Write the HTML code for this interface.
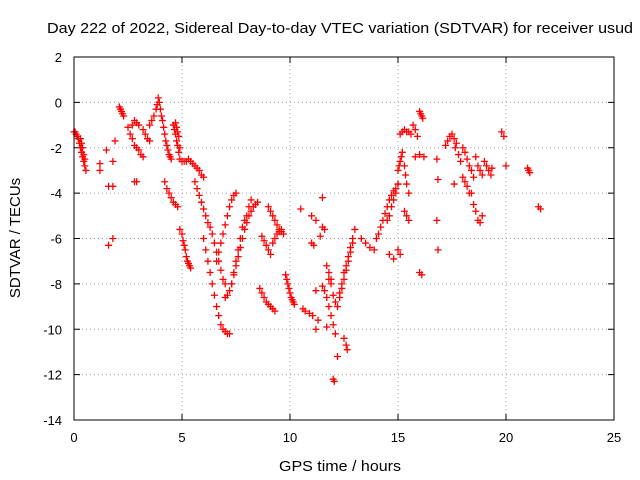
<!DOCTYPE html>
<html><head><meta charset="utf-8"><style>
body{margin:0;background:#fff}
svg{display:block;font-family:"Liberation Sans",sans-serif}
</style></head><body>
<svg id="chart" width="640" height="480" viewBox="0 0 640 480" xmlns="http://www.w3.org/2000/svg">
<rect width="640" height="480" fill="#fff"/>
<text x="47" y="33" font-size="15" textLength="586" lengthAdjust="spacingAndGlyphs">Day 222 of 2022, Sidereal Day-to-day VTEC variation (SDTVAR) for receiver usud</text>
<g id="grid"></g><g id="ticks"></g><g id="pts"></g>
<rect x="74" y="57" width="540" height="363" fill="none" stroke="#000" stroke-width="1"/>
<text x="279" y="471" font-size="15" textLength="122" lengthAdjust="spacingAndGlyphs">GPS time / hours</text>
<text x="20" y="238" font-size="15" text-anchor="middle" transform="rotate(-90 20 238)">SDTVAR / TECUs</text>
</svg>
<script>
const xTicks=[0,5,10,15,20,25];
const yTicks=[2,0,-2,-4,-6,-8,-10,-12,-14];
const times=[0,0.05,0.1,0.15,0.2,0.25,0.3,0.35,0.4,0.45,0.5,0.55,0.3,0.35,0.4,0.45,0.5,
1.2,1.2,1.5,1.6,1.6,1.8,1.8,1.8,1.9,2.1,2.15,2.2,2.25,2.3,
2.5,2.6,2.7,2.8,2.9,3.0,3.1,3.2,2.8,2.9,2.7,2.8,2.9,3.0,3.2,3.3,3.4,3.5,
3.5,3.6,3.7,3.8,3.85,3.9,3.95,4.0,4.05,4.1,4.15,4.2,4.25,4.3,4.35,4.4,4.45,4.5,
4.6,4.65,4.7,4.75,4.8,4.85,4.9,4.7,4.75,4.8,4.85,4.9,
4.2,4.3,4.4,4.5,4.6,4.7,4.8,
4.9,5.0,5.05,5.1,5.15,5.2,5.25,5.3,5.35,5.4,
5.0,5.1,5.2,5.3,5.4,5.5,5.6,5.7,5.8,5.9,6.0,
5.6,5.7,5.8,5.9,6.0,6.1,6.2,6.3,6.4,6.5,6.6,6.7,6.8,6.9,7.0,
6.0,6.1,6.2,6.3,6.4,6.5,6.6,6.7,6.8,6.9,7.0,7.1,7.2,
7.0,7.1,7.2,7.3,7.4,7.5,7.6,7.7,7.8,7.9,8.0,8.1,8.2,
6.6,6.7,6.8,6.9,7.0,7.1,7.2,7.3,7.4,7.5,
7.3,7.4,7.5,7.6,7.7,7.8,7.9,8.0,8.1,8.2,8.3,8.4,8.5,
8.6,8.7,8.8,8.9,9.0,9.1,9.2,9.3,
8.7,8.8,8.9,9.0,9.1,9.2,9.3,9.4,9.5,9.6,
9.0,9.1,9.2,9.3,9.4,9.5,9.6,9.7,
9.8,9.85,9.9,9.95,10.0,10.05,10.1,10.15,10.2,
10.5,10.6,10.7,10.9,11.0,11.0,11.05,11.1,11.2,11.2,11.2,11.5,11.5,11.4,11.6,11.3,
11.5,11.6,11.7,11.8,11.9,12.0,12.1,12.2,11.7,11.8,11.9,12.0,12.1,12.0,12.05,11.9,11.8,11.7,
12.2,12.3,12.4,12.5,12.6,12.7,12.8,12.9,13.0,12.5,12.6,12.65,12.3,12.4,12.5,12.6,12.7,12.8,12.9,
13.3,13.5,13.7,13.9,14.0,14.1,14.2,14.3,14.4,14.5,14.6,14.7,14.8,14.9,15.0,
14.5,14.6,14.7,14.8,14.9,15.0,14.6,14.8,15.0,15.1,
15.0,15.05,15.1,15.15,15.2,15.3,15.35,15.4,15.5,15.1,15.2,15.3,15.4,15.5,15.6,15.3,15.4,15.5,
15.7,15.8,15.9,16.0,15.8,16.0,16.05,16.1,16.15,16.0,16.1,16.2,
16.8,16.85,16.8,16.85,17.2,17.3,17.4,17.5,17.6,17.65,17.7,17.8,17.9,17.6,
18.0,18.1,18.2,18.3,18.0,18.1,18.2,18.3,18.4,18.5,18.6,18.7,18.8,18.9,18.4,18.5,18.6,18.7,
18.8,18.9,19.0,19.1,19.2,19.3,19.35,19.8,19.9,20.0,21.0,21.05,21.1,21.5,21.6];
const values=[-1.3,-1.3,-1.4,-1.5,-1.6,-1.8,-2.0,-2.2,-2.4,-2.6,-2.8,-3.0,-1.6,-1.8,-2.0,-2.3,-2.5,
-2.7,-3.0,-2.1,-3.7,-6.3,-3.7,-2.6,-6.0,-1.7,-0.2,-0.3,-0.4,-0.5,-0.6,
-1.1,-1.4,-1.6,-1.9,-2.0,-2.1,-2.3,-2.4,-3.5,-3.5,-1.0,-0.8,-0.9,-1.0,-1.2,-1.4,-1.6,-1.7,
-1.0,-0.8,-0.6,-0.3,-0.1,0.2,0.0,-0.3,-0.6,-0.8,-1.1,-1.4,-1.7,-1.9,-2.1,-2.3,-2.4,-2.5,
-1.0,-1.2,-1.4,-1.7,-1.9,-2.2,-2.5,-0.9,-1.1,-1.3,-1.5,-2.0,
-3.5,-3.8,-4.0,-4.2,-4.4,-4.5,-4.6,
-5.6,-5.8,-6.1,-6.3,-6.5,-6.8,-7.0,-7.1,-7.2,-7.3,
-2.6,-2.6,-2.6,-2.5,-2.6,-2.7,-2.8,-2.9,-3.0,-3.2,-3.3,
-3.5,-3.8,-4.1,-4.4,-4.7,-5.0,-5.3,-5.5,-5.8,-6.2,-6.6,-7.0,-7.4,-7.8,-8.0,
-6.0,-6.5,-7.0,-7.5,-8.0,-8.5,-9.0,-9.4,-9.8,-10.0,-10.1,-10.2,-10.2,
-8.6,-8.5,-8.3,-8.0,-7.5,-7.0,-6.5,-6.0,-5.5,-5.2,-5.0,-4.6,-4.3,
-7.0,-6.6,-6.2,-5.8,-5.4,-5.0,-4.6,-4.3,-4.1,-4.0,
-8.0,-7.6,-7.2,-6.8,-6.4,-6.0,-5.6,-5.3,-5.0,-4.8,-4.6,-4.5,-4.4,
-8.2,-8.4,-8.6,-8.8,-8.9,-9.0,-9.1,-9.2,
-5.9,-6.1,-6.3,-6.5,-6.7,-6.2,-6.0,-5.8,-5.7,-5.6,
-4.6,-4.8,-5.0,-5.2,-5.4,-5.6,-5.7,-5.8,
-7.6,-7.8,-8.0,-8.2,-8.4,-8.6,-8.7,-8.8,-8.9,
-4.7,-9.1,-9.2,-9.3,-5.0,-6.2,-9.4,-6.3,-5.2,-8.3,-10.0,-4.2,-5.5,-5.9,-5.6,-9.6,
-8.1,-8.3,-8.6,-9.0,-9.4,-9.8,-10.2,-11.2,-7.2,-7.5,-7.8,-8.5,-8.8,-12.2,-12.3,-8.0,-7.8,-9.9,
-9.0,-8.6,-8.2,-7.8,-7.4,-7.0,-6.6,-6.2,-5.6,-10.4,-10.7,-10.9,-8.4,-8.0,-7.5,-7.2,-6.8,-6.4,-6.0,
-6.0,-6.2,-6.4,-6.5,-6.0,-5.8,-5.5,-5.2,-4.9,-4.6,-4.3,-4.1,-3.9,-3.8,-3.6,
-5.2,-5.0,-4.6,-4.3,-4.0,-3.6,-6.7,-6.9,-6.5,-6.7,
-3.0,-2.8,-2.6,-2.4,-2.2,-2.8,-3.2,-3.6,-4.0,-1.4,-1.3,-1.2,-1.3,-1.3,-1.4,-4.8,-5.0,-5.2,
-1.0,-1.2,-1.5,-2.3,-2.4,-0.4,-0.5,-0.6,-0.7,-7.5,-7.6,-2.4,
-2.5,-3.4,-5.2,-6.5,-1.9,-1.7,-1.5,-1.4,-1.6,-2.0,-1.8,-2.3,-2.6,-3.6,
-3.3,-3.5,-3.7,-4.0,-2.0,-2.2,-2.5,-2.8,-3.0,-3.3,-2.4,-2.8,-3.0,-3.2,-4.0,-4.5,-4.8,-5.2,
-5.3,-5.0,-2.6,-2.8,-3.0,-3.2,-2.9,-1.3,-1.5,-2.8,-2.9,-3.0,-3.1,-4.6,-4.7,-3.8,-3.9];
const X0=74,X1=614,Y0=57,Y1=420;
function xs(t){return X0+(t-0)/(25-0)*(X1-X0);}
function ys(v){return Y0+(2-v)/(2-(-14))*(Y1-Y0);}
const NS='http://www.w3.org/2000/svg';
const grid=document.getElementById('grid'),ticks=document.getElementById('ticks'),pts=document.getElementById('pts');
function mk(tag,attrs,parent){const e=document.createElementNS(NS,tag);for(const k in attrs)e.setAttribute(k,attrs[k]);parent.appendChild(e);return e;}
xTicks.forEach(t=>{const x=xs(t);
 if(t>0&&t<25){const g=mk('line',{x1:x,x2:x,y1:Y0,y2:Y1,stroke:'#a0a0a0','stroke-dasharray':'1,3'},grid);
 
 }
 mk('line',{x1:x,x2:x,y1:Y1,y2:Y1-6,stroke:'#000'},ticks);
 mk('line',{x1:x,x2:x,y1:Y0,y2:Y0+6,stroke:'#000'},ticks);
 const l=mk('text',{x:x,y:Y1+22,'font-size':13,'text-anchor':'middle'},ticks);l.textContent=t;
 
 });
yTicks.forEach(v=>{const y=ys(v);
 if(v<2&&v>-14){const g=mk('line',{x1:X0,x2:X1,y1:y,y2:y,stroke:'#a0a0a0','stroke-dasharray':'1,3'},grid);
 
 }
 mk('line',{x1:X0,x2:X0+6,y1:y,y2:y,stroke:'#000'},ticks);
 mk('line',{x1:X1,x2:X1-6,y1:y,y2:y,stroke:'#000'},ticks);
 const l=mk('text',{x:X0-12,y:y+5,'font-size':13,'text-anchor':'end'},ticks);l.textContent=v;
 
 });
times.forEach((t,i)=>{const x=xs(t),y=ys(values[i]);
 const p=mk('path',{d:`M${x-3.5} ${y}h7M${x} ${y-3.5}v7`,stroke:'#f00','stroke-width':1.3,fill:'none'},pts);
 
 });
</script>
</body></html>
